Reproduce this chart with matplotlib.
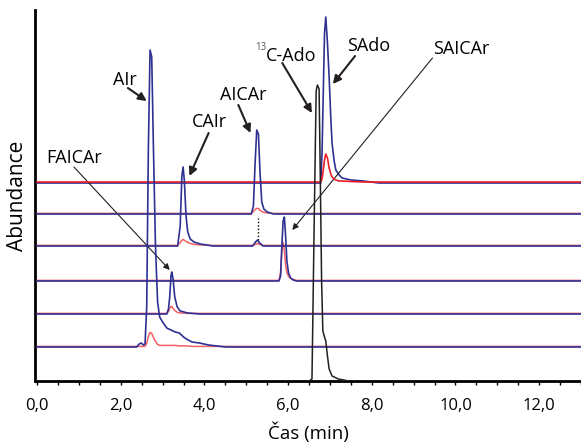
import numpy as np
import matplotlib
matplotlib.use("Agg")
import matplotlib.pyplot as plt

plt.rcParams['font.family'] = ['Open Sans', 'DejaVu Sans']

# vertical offsets of the stacked traces (top to bottom)
offsets = [198, 167, 135, 100, 67, 34]
red_shift = [1.0, 0, 0, 0, 0, 0]

# row 1 - SAdo
sado_t = [6.78, 6.81, 6.84, 6.87, 6.90, 6.94, 6.98, 7.02, 7.05, 7.10, 7.14, 7.22, 7.29, 7.5, 7.8, 8.17]
sado_blue = [0, 30, 90, 150, 166, 140, 106, 65, 40, 22, 13, 8, 5, 3, 2, 0]
sado_red = [0, 3, 12, 22, 28, 24, 14, 8, 5, 3, 2, 1, 1, 0.5, 0, 0]

# row 2 - AICAr
aicar_t = [5.12, 5.17, 5.21, 5.25, 5.29, 5.33, 5.37, 5.42, 5.50, 5.65]
aicar_blue = [0, 8, 50, 84, 80, 40, 12, 5, 2, 0]
aicar_red = [0, 2, 4, 5, 5, 3, 2, 1, 0.5, 0]

# row 3 - CAIr + small AICAr
cair_t = [3.36, 3.42, 3.46, 3.49, 3.52, 3.56, 3.60, 3.66, 3.75, 3.90, 4.20,
          5.15, 5.22, 5.27, 5.32, 5.40]
cair_blue = [0, 20, 70, 79, 65, 30, 14, 7, 4, 2, 0,
             0, 4, 6, 3, 0]
cair_red = [0, 3, 5, 6, 5, 4, 3, 2, 1, 0.5, 0,
            0, 1, 2, 1, 0]

# row 4 - SAICAr
saicar_t = [5.78, 5.82, 5.85, 5.88, 5.91, 5.94, 5.97, 6.01, 6.06, 6.12, 6.20]
saicar_blue = [0, 5, 35, 60, 64, 45, 20, 8, 3, 1, 0]
saicar_red = [0, 8, 30, 38, 30, 15, 8, 4, 2, 1, 0]

# row 5 - FAICAr
faicar_t = [3.10, 3.14, 3.17, 3.20, 3.22, 3.25, 3.29, 3.35, 3.42, 3.60, 3.90]
faicar_blue = [0, 5, 17, 38, 42, 35, 17, 7, 3, 1, 0]
faicar_red = [0, 2, 5, 7, 7, 5, 3, 1, 0.5, 0, 0]

# row 6 - AIr
air_t = [2.38, 2.44, 2.49, 2.54, 2.58, 2.62, 2.66, 2.70, 2.74, 2.78, 2.83, 2.88, 2.93,
         3.00, 3.10, 3.20, 3.30, 3.40, 3.50, 3.57, 3.70, 3.88, 4.10, 4.50]
air_blue = [0, 3, 4, 2, 3, 40, 200, 297, 290, 200, 100, 45, 30,
            25, 19, 17, 15, 14, 10, 8, 5, 4, 2, 0]
air_red = [0, 0, 0, 0, 0, 3, 10, 14, 13, 9, 5, 2, 1,
           1, 1, 1, 1, 0.5, 0.5, 0.5, 0, 0, 0, 0]

# 13C-Ado internal standard (on the axis)
ado_t = [6.50, 6.57, 6.62, 6.67, 6.70, 6.74, 6.77, 6.80, 6.83, 6.87, 6.90, 6.94, 6.98, 7.05, 7.20, 7.45]
ado_y = [0, 2, 150, 290, 296, 292, 200, 100, 50, 44, 40, 25, 12, 5, 2, 0]

rows = [
    (sado_t, sado_blue, sado_red),
    (aicar_t, aicar_blue, aicar_red),
    (cair_t, cair_blue, cair_red),
    (saicar_t, saicar_blue, saicar_red),
    (faicar_t, faicar_blue, faicar_red),
    (air_t, air_blue, air_red),
]

BLUE = "#2e3192"
RED = "#ed1c24"
BLACK = "#231f20"


def pad(t, y):
    """Add flat baseline to both ends of the trace."""
    return [0.0] + list(t) + [13.1], [0.0] + list(y) + [0.0]


fig = plt.figure(figsize=(5.81, 4.44), dpi=100)
ax = fig.add_axes([35 / 581, 63 / 444, 546 / 581, 371 / 444])

for i, (t, blue, red) in enumerate(rows):
    tb, yb = pad(t, blue)
    tr, yr = pad(t, red)
    off = offsets[i]
    if i == 0:
        ax.plot(tb, np.array(yb) + off, color=BLUE, lw=1.2, zorder=3)
        ax.plot(tr, np.array(yr) + off + red_shift[i], color=RED, lw=1.2, zorder=4)
    else:
        ax.plot(tr, np.array(yr) + off + 0.6, color=RED, lw=1.1, alpha=0.7, zorder=3)
        ax.plot(tb, np.array(yb) + off, color=BLUE, lw=1.2, zorder=4)

ax.plot(ado_t, ado_y, color=BLACK, lw=1.1, zorder=5)

# dotted connector between AICAr peaks
ax.plot([5.29, 5.29], [141, 163], color="black", lw=1.0, ls=(0, (1, 1.5)), zorder=2)

fs = 13
thick = dict(arrowstyle="-|>", color="#231f20", lw=1.5, mutation_scale=12, shrinkA=0, shrinkB=0)
thin = dict(arrowstyle="-|>", color="#231f20", lw=0.8, mutation_scale=9, shrinkA=0, shrinkB=0)

ax.annotate("", xy=(2.62, 280), xytext=(2.17, 293), arrowprops=thick)
ax.text(2.10, 301, "AIr", fontsize=fs, ha="center", va="center")

ax.annotate("", xy=(3.64, 205), xytext=(4.10, 248), arrowprops=thick)
ax.text(4.12, 259, "CAIr", fontsize=fs, ha="center", va="center")

ax.annotate("", xy=(5.10, 248), xytext=(4.81, 276), arrowprops=thick)
ax.text(4.93, 286, "AICAr", fontsize=fs, ha="center", va="center")

ax.annotate("", xy=(6.57, 268), xytext=(5.86, 318), arrowprops=thick)
ax.text(6.07, 325, "C-Ado", fontsize=fs, ha="center", va="center")
ax.text(5.48, 333, "13", fontsize=7, ha="right", va="center", color="#555555")

ax.annotate("", xy=(7.07, 297), xytext=(7.60, 325), arrowprops=thick)
ax.text(7.93, 335, "SAdo", fontsize=fs, ha="center", va="center")

ax.annotate("", xy=(6.10, 151), xytext=(9.45, 323), arrowprops=thin)
ax.text(10.14, 332, "SAICAr", fontsize=fs, ha="center", va="center")

ax.annotate("", xy=(3.17, 111), xytext=(0.88, 214), arrowprops=thin)
ax.text(0.88, 223, "FAICAr", fontsize=fs, ha="center", va="center")

ax.set_xlim(-0.05, 13.0)
ax.set_ylim(0, 371)
ticks = np.arange(0, 13.01, 0.5)
ax.set_xticks(ticks)
ax.set_xticklabels([f"{v:.1f}".replace(".", ",") if v % 2 == 0 else "" for v in ticks], fontsize=12)
ax.tick_params(axis="x", direction="out", length=3, width=1, pad=9)
ax.set_yticks([])
for s in ["top", "right"]:
    ax.spines[s].set_visible(False)
ax.spines["left"].set_linewidth(2)
ax.spines["bottom"].set_linewidth(2)
ax.set_xlabel("Čas (min)", fontsize=13.5, labelpad=6)
ax.set_ylabel("Abundance", fontsize=15, labelpad=5)

fig.savefig("out.png", dpi=100)
